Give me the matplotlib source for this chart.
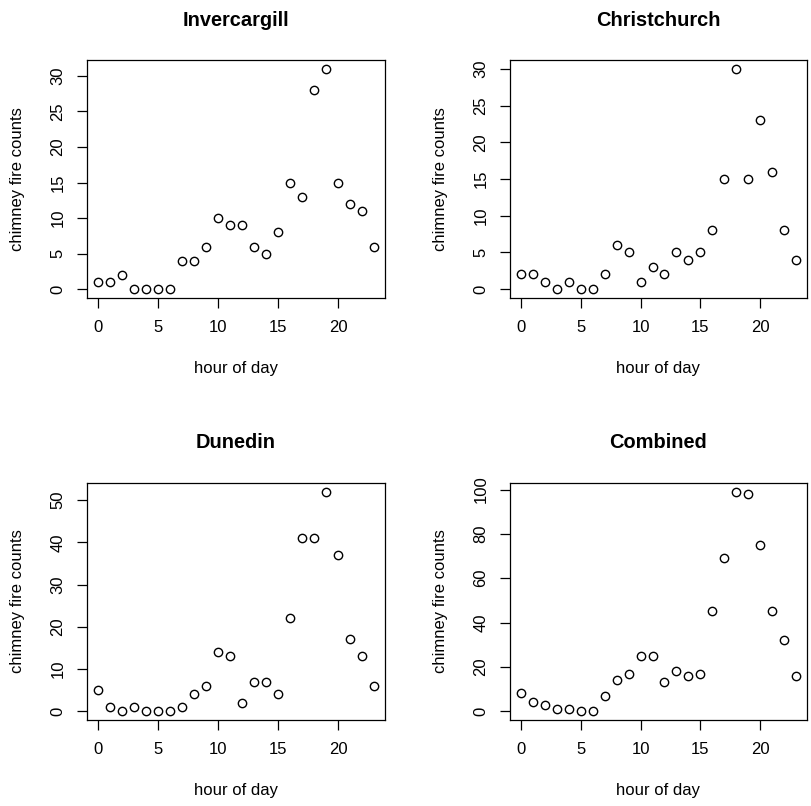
import matplotlib.pyplot as plt
from matplotlib.ticker import MultipleLocator

plt.rcParams['font.family'] = ['Liberation Sans', 'DejaVu Sans']

hours = list(range(24))

invercargill = [1, 1, 2, 0, 0, 0, 0, 4, 4, 6, 10, 9, 9, 6, 5, 8, 15, 13, 28, 31, 15, 12, 11, 6]
christchurch = [2, 2, 1, 0, 1, 0, 0, 2, 6, 5, 1, 3, 2, 5, 4, 5, 8, 15, 30, 15, 23, 16, 8, 4]
dunedin = [5, 1, 0, 1, 0, 0, 0, 1, 4, 6, 14, 13, 2, 7, 7, 4, 22, 41, 41, 52, 37, 17, 13, 6]
combined = [8, 4, 3, 1, 1, 0, 0, 7, 14, 17, 25, 25, 13, 18, 16, 17, 45, 69, 99, 98, 75, 45, 32, 16]

titles = ["Invercargill", "Christchurch", "Dunedin", "Combined"]
series = [invercargill, christchurch, dunedin, combined]
ystep = [5, 5, 10, 20]

W, H = 812, 806
fig = plt.figure(figsize=(W / 100, H / 100), dpi=100)

# axes boxes in pixels: (left, top, right, bottom)
boxes = [(87, 60, 385, 298), (510, 60, 807, 298),
         (87, 483, 385, 720), (510, 483, 807, 720)]

for (l, t, r, b), name, vals, step in zip(boxes, titles, series, ystep):
    ax = fig.add_axes([l / W, 1 - b / H, (r - l) / W, (b - t) / H])
    ax.plot(hours, vals, 'o', mfc='none', mec='black', ms=6, mew=1)
    ax.set_xlim(-0.92, 23.92)
    lo, hi = min(vals), max(vals)
    pad = (hi - lo) * 0.04
    ax.set_ylim(lo - pad, hi + pad)
    ax.yaxis.set_major_locator(MultipleLocator(step))
    ax.set_xticks([0, 5, 10, 15, 20])
    ax.tick_params(direction='out', length=7, width=0.9, labelsize=12, pad=8.5)
    for lab in ax.get_yticklabels():
        lab.set_rotation(90)
        lab.set_va('center')
    for sp in ax.spines.values():
        sp.set_linewidth(0.9)
    hpx = b - t
    wpx = r - l
    ax.set_xlabel("hour of day", fontsize=12, va='center')
    ax.xaxis.set_label_coords(0.5, -70 / hpx)
    ax.set_ylabel("chimney fire counts", fontsize=12, va='center')
    ax.yaxis.set_label_coords(-69 / wpx, 0.5)
    ax.text(0.5, 1 + 40 / hpx, name, transform=ax.transAxes, ha='center',
            va='center', fontsize=14.4, fontweight='bold')

fig.savefig("out.png", dpi=100)
